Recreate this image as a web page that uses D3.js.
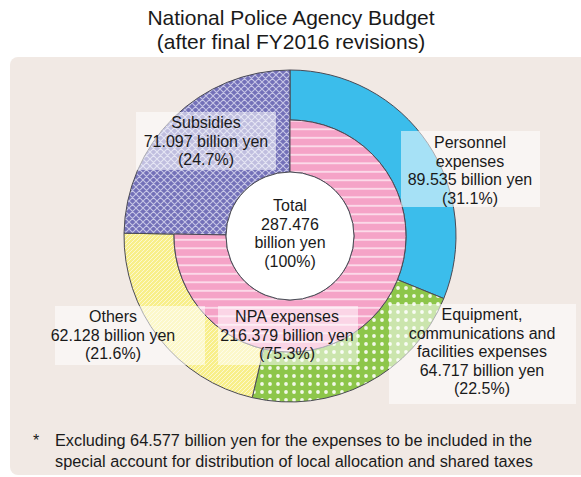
<!DOCTYPE html>
<html lang="en">
<head>
<meta charset="UTF-8">
<title>National Police Agency Budget</title>
<script src="https://d3js.org/d3.v7.min.js"></script>
<style>
    body { margin: 0; background: #fff; }
    text { font-family: "Liberation Sans", Arial, sans-serif; fill: #1a1a1a; }
</style>
</head>
<body>
<svg width="581" height="477"></svg>
<script>
    // data (billion yen)
    var categories = ["Personnel expenses", "Equipment, communications and facilities expenses", "Others", "Subsidies"];
    var values = [89.535, 64.717, 62.128, 71.097];
    var npaName = "NPA expenses";
    var npaValue = 216.379;
    var total = 287.476;
    var footnote = [
        "Excluding 64.577 billion yen for the expenses to be included in the",
        "special account for distribution of local allocation and shared taxes"
    ];

    var svg = d3.select("svg"),
        width = +svg.attr("width"),
        height = +svg.attr("height");

    var cx = 290, cy = 236;
    var rHole = 64, rMid = 116, rOuter = 166;

    // patterns
    var defs = svg.append("defs");

    var p = defs.append("pattern").attr("id", "pPurple").attr("patternUnits", "userSpaceOnUse")
        .attr("width", 7).attr("height", 7);
    p.append("rect").attr("width", 7).attr("height", 7).attr("fill", "#7370b8");
    p.append("path").attr("d", "M0,0L7,7M7,0L0,7M-1,6L1,8M6,-1L8,1M-1,1L1,-1M6,8L8,6")
        .attr("stroke", "#c6c5e6").attr("stroke-width", 1.1);

    p = defs.append("pattern").attr("id", "pPink").attr("patternUnits", "userSpaceOnUse")
        .attr("width", 8).attr("height", 8.5);
    p.append("rect").attr("width", 8).attr("height", 8.5).attr("fill", "#f5a3c7");
    p.append("rect").attr("y", 3).attr("width", 8).attr("height", 1.6).attr("fill", "#fde4ef");

    p = defs.append("pattern").attr("id", "pGreen").attr("patternUnits", "userSpaceOnUse")
        .attr("width", 8).attr("height", 8);
    p.append("rect").attr("width", 8).attr("height", 8).attr("fill", "#8dc64a");
    p.append("circle").attr("cx", 4).attr("cy", 4).attr("r", 1.9).attr("fill", "#f2f8e8");

    p = defs.append("pattern").attr("id", "pYellow").attr("patternUnits", "userSpaceOnUse")
        .attr("width", 4).attr("height", 4);
    p.append("rect").attr("width", 4).attr("height", 4).attr("fill", "#f8ef8a");
    p.append("path").attr("d", "M-1,1L1,-1M0,4L4,0M3,5L5,3").attr("stroke", "#fcf8cf").attr("stroke-width", 1);

    var fills = ["#3bbdeb", "url(#pGreen)", "url(#pYellow)", "url(#pPurple)"];

    // title
    svg.append("text").attr("x", 291).attr("y", 25).attr("text-anchor", "middle")
        .style("font-size", "21px").text("National Police Agency Budget");
    svg.append("text").attr("x", 291).attr("y", 49).attr("text-anchor", "middle")
        .style("font-size", "21px").text("(after final FY2016 revisions)");

    // panel
    svg.append("rect").attr("x", 10).attr("y", 57).attr("width", 600).attr("height", 418)
        .attr("rx", 8).attr("fill", "#f1e9e4");

    var g = svg.append("g").attr("transform", "translate(" + cx + "," + cy + ")");

    var pie = d3.pie().sort(null).value(function(d) { return d; });
    var arcs = pie(values);

    var outerArc = d3.arc().innerRadius(rMid).outerRadius(rOuter);
    var fullArc = d3.arc().innerRadius(rHole).outerRadius(rOuter);

    // outer ring for NPA breakdown, full width for subsidies
    g.selectAll("path.seg")
        .data(arcs)
        .enter().append("path")
        .attr("class", "seg")
        .attr("d", function(d, i) { return i === 3 ? fullArc(d) : outerArc(d); })
        .attr("fill", function(d, i) { return fills[i]; })
        .attr("stroke", "#4a4a55")
        .attr("stroke-width", 1);

    // inner ring: NPA expenses
    var npa = { startAngle: arcs[0].startAngle, endAngle: arcs[2].endAngle };
    g.append("path")
        .attr("d", d3.arc().innerRadius(rHole).outerRadius(rMid)(npa))
        .attr("fill", "url(#pPink)")
        .attr("stroke", "#4a4a55")
        .attr("stroke-width", 1);

    g.append("circle").attr("r", rHole).attr("fill", "#fff")
        .attr("stroke", "#4a4a55").attr("stroke-width", 1);

    function pct(v) { return "(" + (v / total * 100).toFixed(1) + "%)"; }
    function yen(v) { return v.toFixed(3) + " billion yen"; }

    var labels = [
        { box: [136, 112, 140, 58], x: 206, y: 128, lines: ["Subsidies", yen(values[3]), pct(values[3])] },
        { box: [401, 131, 139, 76], x: 470, y: 148, lines: ["Personnel", "expenses", yen(values[0]), pct(values[0])] },
        { box: [55, 306, 150, 59], x: 113, y: 322, lines: [categories[2], yen(values[2]), pct(values[2])] },
        { box: [218, 306, 140, 59], x: 287, y: 322, lines: [npaName, yen(npaValue), pct(npaValue)] },
        { box: [389, 304, 187, 100], x: 482, y: 320, lines: ["Equipment,", "communications and", "facilities expenses", yen(values[1]), pct(values[1])] },
        { box: null, x: 290, y: 211, lines: ["Total", total.toFixed(3), "billion yen", "(100%)"] }
    ];

    labels.forEach(function(l) {
        if (l.box) {
            svg.append("rect").attr("x", l.box[0]).attr("y", l.box[1])
                .attr("width", l.box[2]).attr("height", l.box[3])
                .attr("fill", "#fff").attr("fill-opacity", 0.55);
        }
        var t = svg.append("text").attr("text-anchor", "middle").style("font-size", "16px");
        l.lines.forEach(function(s, i) {
            t.append("tspan").attr("x", l.x).attr("y", l.y + i * 18.5).text(s);
        });
    });

    // footnote
    svg.append("text").attr("x", 33).attr("y", 446).style("font-size", "16px").text("*");
    footnote.forEach(function(s, i) {
        svg.append("text").attr("x", 55).attr("y", 446 + i * 21).style("font-size", "16.3px").text(s);
    });
</script>
</body>
</html>
